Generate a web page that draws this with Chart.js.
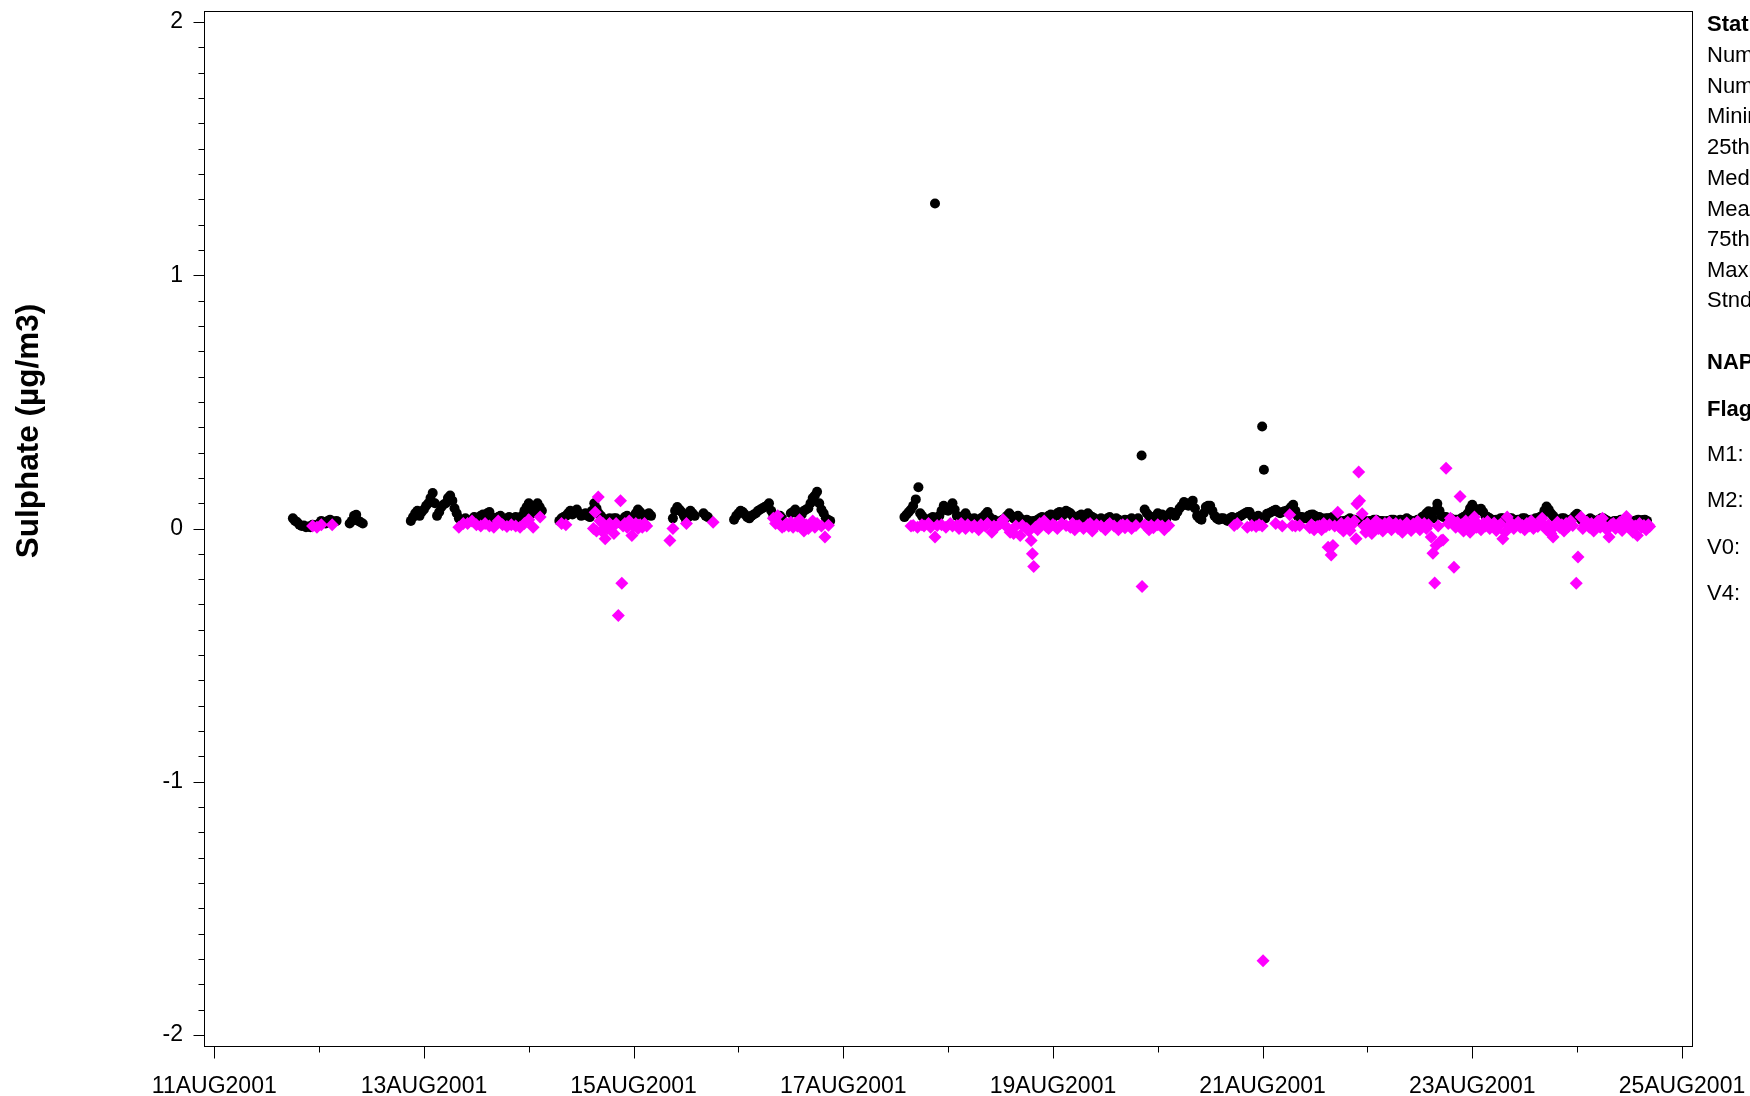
<!DOCTYPE html>
<html>
<head>
<meta charset="utf-8">
<script src="https://cdn.jsdelivr.net/npm/chart.js@4.4.0/dist/chart.umd.min.js"></script>
<style>
html,body{margin:0;padding:0;background:#ffffff;}
canvas{display:block;}
</style>
</head>
<body>
<canvas id="c" width="1750" height="1096"></canvas>
<script>
// ---------------- DATA ----------------
// time in hours since 11AUG2001 00:00
const axisDays = [11,12,13,14,15,16,17,18,19,20,21,22,23,24,25];
const axisDayLabels = {11:'11AUG2001',13:'13AUG2001',15:'15AUG2001',17:'17AUG2001',19:'19AUG2001',21:'21AUG2001',23:'23AUG2001',25:'25AUG2001'};
const yTickLabels = {'-2':'-2','-1':'-1','0':'0','1':'1','2':'2'};
const yTitle = 'Sulphate (µg/m3)';
const panelLines = [
  ['Statistics', true], ['Number of Values', false], ['Number Missing', false], ['Minimum', false],
  ['25th Percentile', false], ['Median', false], ['Mean', false], ['75th Percentile', false],
  ['Maximum', false], ['Stnd Deviation', false], ['NAPS', true], ['Flags', true],
  ['M1:', false], ['M2:', false], ['V0:', false], ['V4:', false]
];

const blackHours = [
  18,19,20,21,22,23,24,25,26,27,28,
  31,32,33,34,
  45,46,47,48,49,50,51,52,53,54,55,56,57,58,59,60,61,62,63,64,65,66,67,68,69,70,71,72,73,74,75,
  79,80,81,82,83,84,85,86,87,88,89,90,91,92,93,94,95,96,97,98,99,100,
  105,106,107,108,109,110,112,113,
  119,120,121,122,123,124,125,126,127,128,129,130,
  132,133,134,135,136,137,138,139,140,141,
  158,159,160,160.6,161.2,162,163,164,165,165.5,166,167,168,169,170,171,172,173,174,175,176,177,178,179,180,
  181,182,183,184,185,186,187,188,189,190,191,192,193,194,195,196,197,198,199,200,
  201,202,203,204,205,206,207,208,209,210,211,212.3,213,214,215,216,217,218,219,220,
  221,222,223,224,225,226,227,228,229,230,231,232,233,234,235,236,237,238,239,239.9,240.3,240.6,
  241,242,243,244,245,246,247,248,249,250,251,252,253,254,255,256,257,258,259,260,
  261,262,263,264,265,266,267,268,269,270,271,272,273,274,275,276,277,278,279,280,
  281,282,283,284,285,286,287,288,289,290,291,292,293,294,295,296,297,298,299,300,
  301,302,303,304,305,306,307,308,309,310,311,312,313,314,315,316,317,318,319,320,
  321,322,323,324,325,326,327,328
];
const blackValues = [
  0.04,0.025,0.01,0.005,0.005,0.01,0.02,0.025,0.03,0.02,0.03,
  0.02,0.05,0.03,0.02,
  0.03,0.06,0.05,0.075,0.1,0.14,0.05,0.085,0.1,0.13,0.08,0.04,0.03,0.025,0.035,0.03,0.05,0.04,0.065,0.035,0.045,0.03,0.04,0.03,0.045,0.03,0.07,0.1,0.06,0.1,0.07,
  0.03,0.045,0.06,0.055,0.075,0.05,0.06,0.045,0.1,0.06,0.04,0.035,0.03,0.04,0.02,0.045,0.03,0.04,0.075,0.05,0.055,0.05,
  0.04,0.085,0.065,0.035,0.07,0.05,0.06,0.045,
  0.035,0.06,0.065,0.045,0.05,0.06,0.075,0.085,0.1,0.05,0.045,0.04,
  0.06,0.075,0.04,0.07,0.08,0.12,0.145,0.075,0.04,0.03,
  0.045,0.065,0.09,0.115,0.163,0.05,0.03,0.04,1.284,0.035,0.05,0.09,0.07,0.1,0.05,0.04,0.06,0.035,0.04,0.03,0.045,0.065,0.03,0.025,0.03,
  0.04,0.06,0.04,0.05,0.03,0.035,0.025,0.03,0.04,0.035,0.05,0.045,0.06,0.05,0.07,0.06,0.045,0.05,0.04,0.06,
  0.045,0.035,0.04,0.03,0.045,0.03,0.035,0.025,0.03,0.04,0.03,0.288,0.075,0.05,0.035,0.06,0.055,0.04,0.065,0.05,
  0.08,0.105,0.09,0.11,0.05,0.035,0.085,0.09,0.05,0.035,0.04,0.03,0.045,0.035,0.05,0.06,0.065,0.04,0.05,0.403,0.232,0.04,
  0.058,0.065,0.074,0.06,0.068,0.075,0.094,0.05,0.045,0.04,0.054,0.05,0.045,0.035,0.04,0.045,0.03,0.025,0.03,0.04,
  0.035,0.03,0.03,0.025,0.03,0.035,0.03,0.025,0.03,0.035,0.03,0.03,0.04,0.025,0.03,0.035,0.05,0.068,0.04,0.098,
  0.05,0.045,0.04,0.035,0.03,0.045,0.06,0.094,0.07,0.078,0.05,0.04,0.03,0.035,0.04,0.035,0.04,0.03,0.035,0.04,
  0.03,0.035,0.04,0.05,0.087,0.06,0.04,0.035,0.04,0.03,0.04,0.058,0.035,0.03,0.04,0.03,0.035,0.04,0.03,0.025,
  0.03,0.035,0.03,0.025,0.03,0.035,0.034,0.03
];
// readings between the full hours
const blackHalfHours = [
  18.5,19.5,20.5,21.5,22.5,23.5,24.5,25.5,26.5,27.5,
  31.5,32.5,33.5,
  45.5,46.5,47.5,48.5,49.5,50.5,51.5,52.5,53.5,54.5,55.5,56.5,57.5,58.5,59.5,60.5,61.5,62.5,63.5,64.5,65.5,66.5,67.5,68.5,69.5,70.5,71.5,72.5,73.5,74.5,
  79.5,80.5,81.5,82.5,83.5,84.5,85.5,86.5,87.5,88.5,89.5,90.5,91.5,92.5,93.5,94.5,95.5,96.5,97.5,98.5,99.5,
  105.5,106.5,107.5,108.5,109.5,112.5,
  119.5,120.5,121.5,122.5,123.5,124.5,125.5,126.5,127.5,128.5,129.5,
  132.5,133.5,134.5,135.5,136.5,137.5,138.5,139.5,140.5,
  158.5,159.5,161.6,162.5,163.5,164.5,166.5,167.5,168.5,169.5,170.5,171.5,172.5,173.5,174.5,175.5,176.5,177.5,178.5,179.5,180.5,
  181.5,182.5,183.5,184.5,185.5,186.5,187.5,188.5,189.5,190.5,191.5,192.5,193.5,194.5,195.5,196.5,197.5,198.5,199.5,200.5,
  201.5,202.5,203.5,204.5,205.5,206.5,207.5,208.5,209.5,210.5,211.5,213.5,214.5,215.5,216.5,217.5,218.5,219.5,220.5,
  221.5,222.5,223.5,224.5,225.5,226.5,227.5,228.5,229.5,230.5,231.5,232.5,233.5,234.5,235.5,236.5,237.5,238.5,
  241.5,242.5,243.5,244.5,245.5,246.5,247.5,248.5,249.5,250.5,251.5,252.5,253.5,254.5,255.5,256.5,257.5,258.5,259.5,260.5,
  261.5,262.5,263.5,264.5,265.5,266.5,267.5,268.5,269.5,270.5,271.5,272.5,273.5,274.5,275.5,276.5,277.5,278.5,279.5,280.5,
  281.5,282.5,283.5,284.5,285.5,286.5,287.5,288.5,289.5,290.5,291.5,292.5,293.5,294.5,295.5,296.5,297.5,298.5,299.5,300.5,
  301.5,302.5,303.5,304.5,305.5,306.5,307.5,308.5,309.5,310.5,311.5,312.5,313.5,314.5,315.5,316.5,317.5,318.5,319.5,320.5,
  321.5,322.5,323.5,324.5,325.5,326.5,327.5
];
const blackHalfValues = [
  0.03,0.015,0.012,0.008,0.015,0.012,0.03,0.02,0.035,0.028,
  0.03,0.054,0.025,
  0.045,0.07,0.065,0.09,0.12,0.1,0.065,0.095,0.12,0.11,0.06,0.035,0.04,0.03,0.045,0.04,0.055,0.06,0.045,0.04,0.05,0.035,0.045,0.04,0.035,0.05,0.085,0.08,0.09,0.085,
  0.04,0.05,0.07,0.065,0.06,0.055,0.05,0.07,0.08,0.05,0.035,0.04,0.04,0.03,0.035,0.05,0.035,0.06,0.065,0.045,0.06,
  0.07,0.075,0.05,0.045,0.06,0.05,
  0.05,0.07,0.055,0.04,0.055,0.07,0.08,0.09,0.07,0.04,0.05,
  0.065,0.06,0.055,0.075,0.1,0.13,0.1,0.06,0.035,
  0.055,0.075,0.06,0.04,0.035,0.045,0.07,0.08,0.085,0.075,0.045,0.05,0.045,0.03,0.035,0.04,0.055,0.045,0.035,0.02,0.035,
  0.05,0.05,0.045,0.04,0.025,0.03,0.03,0.035,0.045,0.04,0.055,0.05,0.065,0.055,0.065,0.05,0.04,0.055,0.05,0.05,
  0.04,0.03,0.035,0.04,0.035,0.04,0.03,0.035,0.035,0.035,0.04,0.06,0.045,0.045,0.05,0.045,0.055,0.06,0.065,
  0.09,0.1,0.095,0.08,0.04,0.06,0.09,0.07,0.04,0.04,0.035,0.04,0.04,0.045,0.055,0.065,0.05,0.045,
  0.06,0.07,0.065,0.065,0.07,0.085,0.07,0.045,0.04,0.05,0.055,0.045,0.04,0.04,0.04,0.035,0.03,0.03,0.035,0.035,
  0.03,0.035,0.03,0.03,0.035,0.03,0.03,0.03,0.035,0.03,0.035,0.035,0.035,0.03,0.035,0.045,0.06,0.05,0.07,0.07,
  0.045,0.04,0.035,0.035,0.04,0.05,0.08,0.08,0.075,0.065,0.045,0.035,0.035,0.04,0.035,0.04,0.035,0.035,0.04,0.035,
  0.035,0.04,0.045,0.07,0.075,0.05,0.035,0.04,0.035,0.035,0.05,0.045,0.03,0.035,0.035,0.03,0.04,0.035,0.025,0.03,
  0.03,0.03,0.028,0.03,0.032,0.03,0.035
];

const magentaHours = [
  22.5,23.5,24.5,27,
  56,57,58,59,60,61,62,63,64,65,66,67,68,69,70,71,72,73,74.6,
  79.5,80.5,86.8,87.2,87.5,87.9,88.3,88.7,89,89.5,90,90.5,91,91.5,92,92.5,93,93.3,93.6,94,94.5,95,95.6,96,96.5,97,97.5,98,98.5,99,
  104.3,105,108.1,114.2,
  128,128.5,129,129.5,130,130.5,131,131.5,132,132.5,133,133.5,134,134.5,135,135.5,136,136.5,137,137.5,138,139,139.8,140.6,
  159.5,160,161,162,162.5,163.5,164,165,165.5,166.5,167.5,168.5,169,170,170.5,171,172,172.5,173.5,174,175,175.5,176.5,177,178,178.5,179,180,180.6,181.5,
  182.2,183,183.5,184.5,185,186,186.5,187,187.3,187.6,188,188.5,189,190,190.5,191,192,192.5,193,194,195,196,196.5,197,197.5,198,199,200,200.5,201,
  201.5,202,203,204,204.5,205,206,207,207.5,208,208.5,209,210,211,212.4,213,213.5,214,214.5,215,216,217,217.5,218.5,
  233.5,234.2,236.5,237.5,238.5,239.2,239.9,240.1,243,244.5,246.2,246.8,247.5,248.5,250.8,251.2,251.8,252.5,
  253,253.5,254,254.5,255,255.3,255.7,256.1,256.5,257.2,257.6,258,258.5,259,259.5,260,260.5,261,261.4,261.6,262,262.2,262.8,263.2,263.6,
  264,264.5,265,265.5,266,266.5,267,267.5,268,268.5,269,269.5,270,270.5,271,271.5,272,272.5,273,273.5,274,274.5,275,275.5,276,276.5,277,277.5,278,
  278.6,279,279.4,279.7,280.2,280.9,281.3,282,282.5,283,283.8,284.2,284.6,285.2,285.6,286,286.5,287,287.5,288,288.5,289,289.5,290,290.5,
  291,291.5,292,292.5,293,293.5,294,294.5,295,295.5,296,296.5,297,297.5,298,298.5,299,299.5,300,300.5,301,301.5,302,302.5,303,303.5,304,304.5,
  305,305.5,306,306.5,307,307.5,308,308.5,309,309.5,310,310.5,311,311.8,312.2,312.9,313.3,313.8,314.3,314.8,315.3,315.8,316.3,316.8,317.3,317.8,
  318.3,318.8,319.3,319.8,320.3,320.8,321.3,321.8,322.3,322.8,323.3,323.8,324.3,324.8,325.3,325.8,326.3,326.8,327.3,327.8,328.3,328.6
];
const magentaValues = [
  0.01,0.005,0.015,0.015,
  0.005,0.02,0.02,0.03,0.015,0.01,0.02,0.01,0.005,0.03,0.015,0.008,0.015,0.01,0.005,0.02,0.035,0.005,0.045,
  0.02,0.015,0.0,0.064,-0.01,0.124,0.03,-0.01,0.02,-0.04,0.0,0.02,0.01,-0.02,0.02,-0.344,0.11,-0.216,0.01,0.02,0.005,0.03,-0.028,0.01,0.02,0.0,0.015,0.005,0.02,0.01,
  -0.047,0.0,0.02,0.025,
  0.04,0.02,0.05,0.015,0.005,0.01,0.02,0.01,0.025,0.005,0.02,0.01,0.035,0.02,-0.01,0.015,0.0,0.02,0.03,0.005,0.02,0.01,-0.034,0.013,
  0.01,0.012,0.005,0.015,0.01,0.02,0.005,-0.034,0.012,0.015,0.005,0.02,0.01,0.012,0.0,0.02,0.0,0.015,0.005,0.012,-0.005,0.015,0.01,0.02,-0.015,0.01,0.005,0.02,0.035,0.005,
  -0.015,-0.02,0.01,-0.028,0.012,0.0,-0.01,-0.047,-0.1,-0.15,0.005,-0.005,0.02,0.03,0.008,0.0,0.016,0.01,0.0,0.02,0.012,0.005,0.02,-0.005,0.01,0.012,0.0,0.015,0.02,-0.01,
  0.005,0.015,0.01,-0.005,0.012,0.02,0.01,-0.005,0.012,0.015,0.003,0.015,0.0,0.012,-0.229,0.015,0.005,-0.005,0.012,0.003,0.015,0.01,-0.005,0.012,
  0.012,0.02,0.005,0.012,0.008,0.015,0.01,-1.707,0.02,0.01,0.054,0.012,0.01,0.012,0.003,0.015,-0.005,0.008,
  0.01,-0.005,0.02,0.008,-0.074,0.015,-0.105,-0.067,0.01,0.064,0.005,0.02,-0.01,0.012,0.025,-0.008,0.015,0.03,-0.04,0.098,0.223,0.11,0.058,0.01,-0.015,
  0.02,0.005,-0.02,0.012,0.03,0.0,0.015,-0.01,0.02,0.008,0.025,-0.005,0.012,0.02,0.0,0.015,-0.015,0.01,0.022,0.005,-0.008,0.018,0.01,0.028,-0.005,0.012,0.02,0.0,0.015,
  -0.034,-0.098,-0.215,-0.067,0.01,-0.047,-0.045,0.238,0.02,0.04,-0.153,0.005,0.025,0.126,0.015,-0.01,0.03,0.008,-0.015,0.02,0.045,0.005,0.015,-0.005,0.02,
  0.01,0.028,0.0,0.012,0.022,-0.008,0.01,0.018,-0.04,-0.015,0.045,0.01,0.02,0.0,0.015,0.025,0.005,0.012,-0.005,0.02,0.01,0.03,0.0,0.015,0.008,0.022,0.04,0.01,
  -0.005,0.015,-0.02,-0.034,0.01,0.025,0.005,0.015,-0.01,0.02,0.008,0.03,0.012,-0.216,-0.113,0.045,0.0,0.015,0.025,0.005,0.02,-0.01,0.012,0.03,0.005,0.04,
  0.01,-0.005,-0.034,0.015,0.02,0.0,0.012,0.025,-0.008,0.015,0.047,0.005,0.018,-0.015,0.01,-0.028,0.02,0.005,0.012,-0.005,0.015,0.008
];

// ---------------- CHART ----------------
const FONT = "'Liberation Sans', Arial, Helvetica, sans-serif";
const hoursToDay = h => 11 + h / 24;
const blackPts = blackHours.map((h, i) => ({x: hoursToDay(h), y: blackValues[i]}))
  .concat(blackHalfHours.map((h, i) => ({x: hoursToDay(h), y: blackHalfValues[i]})));
const magentaPts = magentaHours.map((h, i) => ({x: hoursToDay(h), y: magentaValues[i]}));

const framePlugin = {
  id: 'frame',
  afterDraw(chart) {
    const ctx = chart.ctx;
    const a = chart.chartArea;
    const xs = chart.scales.x, ys = chart.scales.y;
    ctx.save();
    ctx.strokeStyle = '#000';
    ctx.lineWidth = 1;
    const L = Math.round(a.left) + 0.5, R = Math.round(a.right) + 0.5;
    const T = Math.round(a.top) + 0.5, B = Math.round(a.bottom) + 0.5;
    ctx.strokeRect(L, T, R - L, B - T);
    ctx.beginPath();
    xs.ticks.forEach(t => {
      const px = Math.round(xs.getPixelForValue(t.value)) + 0.5;
      const len = axisDayLabels[t.value] ? 12 : 6;
      ctx.moveTo(px, B); ctx.lineTo(px, B + len);
    });
    ys.ticks.forEach(t => {
      const py = Math.round(ys.getPixelForValue(t.value)) + 0.5;
      const major = Math.abs(t.value - Math.round(t.value)) < 1e-6;
      const len = major ? 11 : 6;
      ctx.moveTo(L - len, py); ctx.lineTo(L, py);
    });
    ctx.stroke();

    // y-axis title
    ctx.fillStyle = '#000';
    ctx.font = 'bold 31.5px ' + FONT;
    ctx.textAlign = 'center';
    ctx.textBaseline = 'middle';
    ctx.translate(29, 431);
    ctx.rotate(-Math.PI / 2);
    ctx.fillText(yTitle, 0, 0);
    ctx.restore();

    // right panel
    ctx.save();
    ctx.fillStyle = '#000';
    ctx.textAlign = 'left';
    ctx.textBaseline = 'middle';
    const rowY = [25, 56, 87, 117, 148, 179, 210, 240, 271, 301, 363, 410, 455, 501, 548, 594];
    panelLines.forEach((p, i) => {
      ctx.font = (p[1] ? 'bold ' : '') + '22px ' + FONT;
      ctx.fillText(p[0], 1707, rowY[i]);
    });
    ctx.restore();
  }
};

new Chart(document.getElementById('c').getContext('2d'), {
  type: 'scatter',
  data: {
    datasets: [
      {label: 'flagged', data: magentaPts, pointStyle: 'rectRot', pointRadius: 6.5, backgroundColor: '#ff00ff', borderWidth: 0, order: 0},
      {label: 'valid', data: blackPts, pointStyle: 'circle', pointRadius: 5, backgroundColor: '#000000', borderWidth: 0, order: 1}
    ]
  },
  options: {
    responsive: false,
    animation: false,
    events: [],
    layout: {padding: {left: 0, right: 58, top: 11, bottom: 0}},
    plugins: {legend: {display: false}, tooltip: {enabled: false}},
    scales: {
      x: {
        type: 'linear', min: 10.902, max: 25.096,
        grid: {display: false, drawTicks: false}, border: {display: false},
        afterFit(s) { s.height = 50; s.paddingLeft = 0; s.paddingRight = 0; },
        afterBuildTicks(s) { s.ticks = axisDays.map(v => ({value: v})); },
        ticks: {
          autoSkip: false, maxRotation: 0, minRotation: 0, padding: 27, color: '#000',
          font: {family: FONT, size: 23},
          callback: v => axisDayLabels[v] || ''
        }
      },
      y: {
        type: 'linear', min: -2.044, max: 2.044,
        grid: {display: false, drawTicks: false}, border: {display: false},
        afterFit(s) { s.width = 204; s.paddingTop = 0; s.paddingBottom = 0; },
        afterBuildTicks(s) {
          const t = [];
          for (let k = -20; k <= 20; k++) t.push({value: k / 10});
          s.ticks = t;
        },
        ticks: {
          autoSkip: false, padding: 21, color: '#000',
          font: {family: FONT, size: 23},
          callback: v => yTickLabels[String(Math.round(v * 10) / 10)] || ''
        }
      }
    }
  },
  plugins: [framePlugin]
});
</script>
</body>
</html>
